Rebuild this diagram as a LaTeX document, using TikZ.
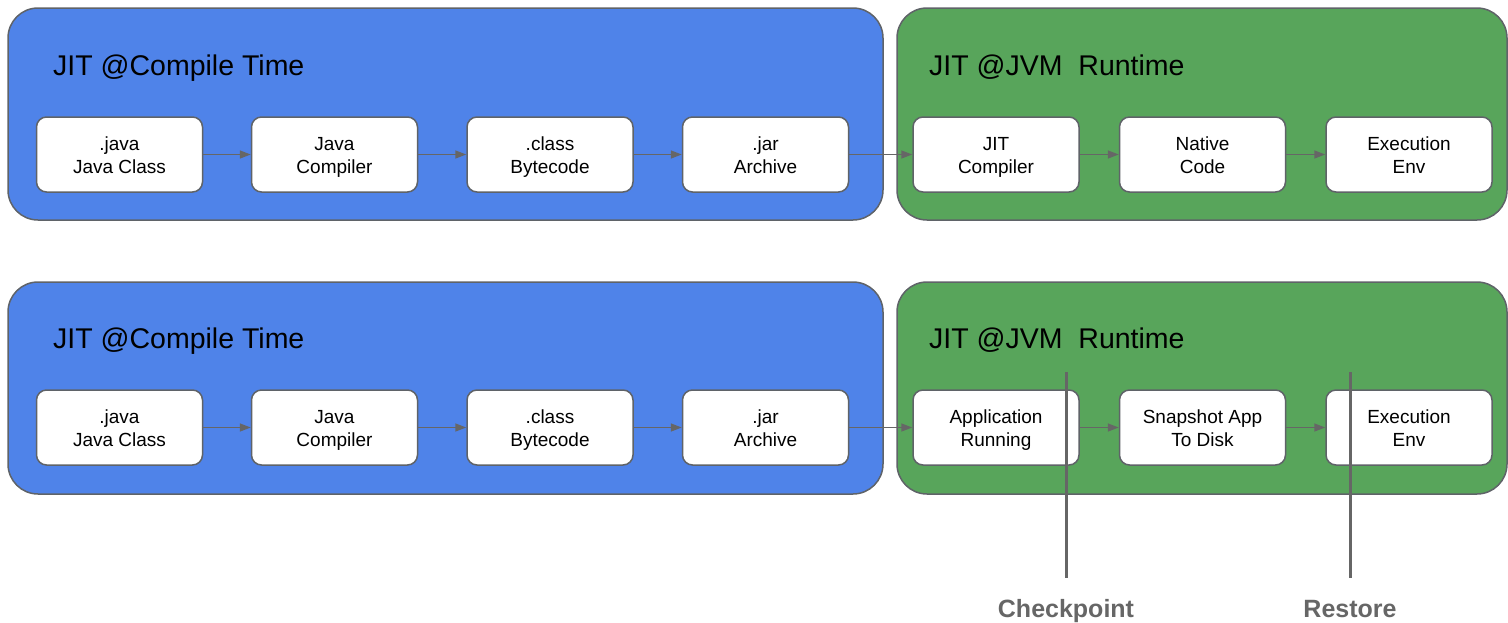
\documentclass[tikz,border=0pt]{standalone}
\usepackage{fontspec}
\setmainfont{Liberation Sans}
\usetikzlibrary{arrows.meta}
\definecolor{panelblue}{HTML}{4F83E9}
\definecolor{panelgreen}{HTML}{58A55B}
\definecolor{edgegray}{HTML}{5F6368}
\definecolor{linegray}{HTML}{666666}
% two centred lines with equal line boxes (height 18.5pt, depth 4.5pt)
\newcommand\linestrut{\rule[-4.5pt]{0pt}{23pt}}
\newcommand\twolines[2]{\linestrut#1\\\linestrut#2}
\tikzset{
  panel/.style={draw=edgegray, line width=1.5pt, rounded corners=30pt},
  stepbox/.style={draw=edgegray, fill=white, line width=1.5pt, rounded corners=10pt,
    minimum width=166pt, minimum height=75pt, align=center, inner sep=0pt,
    font=\fontsize{19}{23}\selectfont},
  paneltitle/.style={anchor=base west, inner sep=0pt, font=\fontsize{28.5}{34}\selectfont},
  flow/.style={draw=linegray, line width=1.5pt, -{Triangle[length=11pt,width=8pt]}},
  marker/.style={draw=linegray, line width=3pt},
  markerlabel/.style={anchor=base, inner sep=0pt, text=linegray, font=\fontsize{25}{30}\selectfont\bfseries}
}
\begin{document}
\begin{tikzpicture}[x=1pt,y=-1pt]
\useasboundingbox (0,0) rectangle (1508,622);

% ---- first pipeline ----
\draw[panel, fill=panelblue] (8,8) rectangle (883,220);
\draw[panel, fill=panelgreen] (897,8) rectangle (1507,220);
\node[paneltitle] (t1) at (53,75) {JIT @Compile Time};
\node[paneltitle] (t2) at (929,75) {JIT @JVM\ \ Runtime};

\node[stepbox] (a1) at (119.5,154.5) {\twolines{.java}{Java Class}};
\node[stepbox] (a2) at (334.5,154.5) {\twolines{Java}{Compiler}};
\node[stepbox] (a3) at (550,154.5) {\twolines{.class}{Bytecode}};
\node[stepbox] (a4) at (765.5,154.5) {\twolines{.jar}{Archive}};
\node[stepbox] (a5) at (996,154.5) {\twolines{JIT}{Compiler}};
\node[stepbox] (a6) at (1202.5,154.5) {\twolines{Native}{Code}};
\node[stepbox] (a7) at (1409,154.5) {\twolines{Execution}{Env}};

\draw[flow] (a1) -- (a2);
\draw[flow] (a2) -- (a3);
\draw[flow] (a3) -- (a4);
\draw[flow] (a4) -- (a5);
\draw[flow] (a5) -- (a6);
\draw[flow] (a6) -- (a7);

% ---- second pipeline (checkpoint / restore) ----
\draw[panel, fill=panelblue] (8,282) rectangle (883,494);
\draw[panel, fill=panelgreen] (897,282) rectangle (1507,494);
\node[paneltitle] (t3) at (53,348) {JIT @Compile Time};
\node[paneltitle] (t4) at (929,348) {JIT @JVM\ \ Runtime};

\node[stepbox] (b1) at (119.5,427.5) {\twolines{.java}{Java Class}};
\node[stepbox] (b2) at (334.5,427.5) {\twolines{Java}{Compiler}};
\node[stepbox] (b3) at (550,427.5) {\twolines{.class}{Bytecode}};
\node[stepbox] (b4) at (765.5,427.5) {\twolines{.jar}{Archive}};
\node[stepbox] (b5) at (996,427.5) {\twolines{Application}{Running}};
\node[stepbox] (b6) at (1202.5,427.5) {\twolines{Snapshot App}{To Disk}};
\node[stepbox] (b7) at (1409,427.5) {\twolines{Execution}{Env}};

\draw[flow] (b1) -- (b2);
\draw[flow] (b2) -- (b3);
\draw[flow] (b3) -- (b4);
\draw[flow] (b4) -- (b5);
\draw[flow] (b5) -- (b6);
\draw[flow] (b6) -- (b7);

% ---- checkpoint and restore markers ----
\coordinate (cpTop) at (1066,372);
\coordinate (cpBot) at (1066,578);
\coordinate (rsTop) at (1350,372);
\coordinate (rsBot) at (1350,578);
\draw[marker] (cpTop) -- (cpBot);
\draw[marker] (rsTop) -- (rsBot);
\node[markerlabel] (cp) at (1066,617) {Checkpoint};
\node[markerlabel] (rs) at (1350,617) {Restore};
\end{tikzpicture}
\end{document}
